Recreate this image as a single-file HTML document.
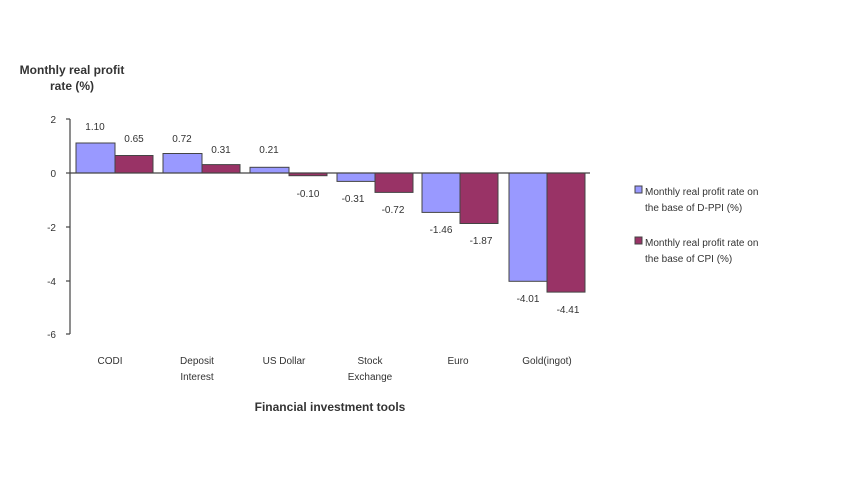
<!DOCTYPE html>
<html><head><meta charset="utf-8"><style>
body{margin:0;background:#fff;}
svg text{font-family:"Liberation Sans",sans-serif;fill:#333;}
</style></head><body>
<svg width="860" height="480" viewBox="0 0 860 480" xmlns="http://www.w3.org/2000/svg">
<rect width="860" height="480" fill="#fff"/>
<text x="72" y="74" font-size="12" font-weight="bold" text-anchor="middle" fill="#111">Monthly real profit</text>
<text x="72" y="90" font-size="12" font-weight="bold" text-anchor="middle" fill="#111">rate (%)</text>
<!-- axis -->
<line x1="70" y1="119" x2="70" y2="334" stroke="#444" stroke-width="1.2"/>
<g stroke="#444" stroke-width="1.2">
<line x1="66" y1="119" x2="70" y2="119"/><line x1="66" y1="173" x2="70" y2="173"/>
<line x1="66" y1="227" x2="70" y2="227"/><line x1="66" y1="281" x2="70" y2="281"/>
<line x1="66" y1="334" x2="70" y2="334"/>
</g>
<g font-size="10" text-anchor="end">
<text x="56" y="123">2</text><text x="56" y="177">0</text><text x="56" y="231">-2</text>
<text x="56" y="285">-4</text><text x="56" y="338">-6</text>
</g>
<g stroke="#444" stroke-width="1">
<!-- CODI -->
<rect x="76" y="143" width="39" height="30" fill="#9999ff"/>
<rect x="115" y="155.5" width="38" height="17.5" fill="#993366"/>
<!-- Deposit -->
<rect x="163" y="153.5" width="39" height="19.5" fill="#9999ff"/>
<rect x="202" y="164.6" width="38" height="8.4" fill="#993366"/>
<!-- US Dollar -->
<rect x="250" y="167.3" width="39" height="5.7" fill="#9999ff"/>
<rect x="289" y="173" width="38" height="2.7" fill="#993366"/>
<!-- Stock -->
<rect x="337" y="173" width="38" height="8.4" fill="#9999ff"/>
<rect x="375" y="173" width="38" height="19.4" fill="#993366"/>
<!-- Euro -->
<rect x="422" y="173" width="38" height="39.4" fill="#9999ff"/>
<rect x="460" y="173" width="38" height="50.5" fill="#993366"/>
<!-- Gold -->
<rect x="509" y="173" width="38" height="108.3" fill="#9999ff"/>
<rect x="547" y="173" width="38" height="119.1" fill="#993366"/>
</g>
<line x1="70" y1="173" x2="590" y2="173" stroke="#444" stroke-width="1.2"/>
<g font-size="10" text-anchor="middle">
<text x="95" y="130">1.10</text><text x="134" y="142">0.65</text>
<text x="182" y="142">0.72</text><text x="221" y="153">0.31</text>
<text x="269" y="153">0.21</text><text x="308" y="197">-0.10</text>
<text x="353" y="202">-0.31</text><text x="393" y="213">-0.72</text>
<text x="441" y="233">-1.46</text><text x="481" y="244">-1.87</text>
<text x="528" y="302">-4.01</text><text x="568" y="313">-4.41</text>
</g>
<g font-size="10" text-anchor="middle">
<text x="110" y="364">CODI</text>
<text x="197" y="364">Deposit</text><text x="197" y="380">Interest</text>
<text x="284" y="364">US Dollar</text>
<text x="370" y="364">Stock</text><text x="370" y="380">Exchange</text>
<text x="458" y="364">Euro</text>
<text x="547" y="364">Gold(ingot)</text>
</g>
<text x="330" y="411" font-size="12" font-weight="bold" text-anchor="middle" fill="#111">Financial investment tools</text>
<!-- legend -->
<rect x="635" y="186" width="7" height="7" fill="#9999ff" stroke="#444"/>
<text x="645" y="195" font-size="10">Monthly real profit rate on</text>
<text x="645" y="211" font-size="10">the base of D-PPI (%)</text>
<rect x="635" y="237" width="7" height="7" fill="#993366" stroke="#444"/>
<text x="645" y="246" font-size="10">Monthly real profit rate on</text>
<text x="645" y="262" font-size="10">the base of CPI (%)</text>
</svg>
</body></html>
